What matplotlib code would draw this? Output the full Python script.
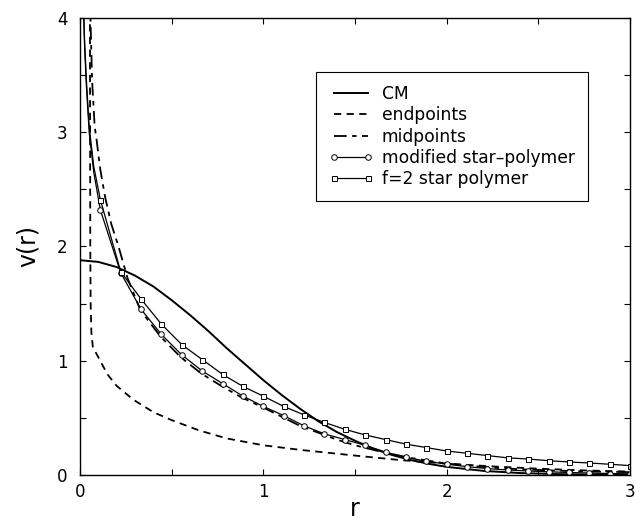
import matplotlib
matplotlib.use("Agg")
import matplotlib.pyplot as plt
from matplotlib.ticker import MultipleLocator

# CM curve
r_cm = [0.0, 0.1, 0.2, 0.3, 0.4, 0.5, 0.6, 0.7, 0.8, 0.9, 1.0, 1.1, 1.2, 1.3,
        1.4, 1.5, 1.6, 1.7, 1.8, 1.9, 2.0, 2.2, 2.4, 2.6, 2.8, 3.0]
v_cm = [1.88, 1.865, 1.82, 1.745, 1.65, 1.53, 1.40, 1.26, 1.11, 0.97, 0.83,
        0.70, 0.58, 0.47, 0.377, 0.30, 0.23, 0.176, 0.132, 0.098, 0.071,
        0.036, 0.017, 0.008, 0.003, 0.001]

# endpoints
r_end = [0.054, 0.055, 0.056, 0.058, 0.062, 0.07, 0.09, 0.11, 0.15, 0.2, 0.29,
         0.4, 0.5, 0.65, 0.8, 1.0, 1.2, 1.5, 1.75, 2.0, 2.25, 2.5, 2.75, 3.0]
v_end = [4.3, 3.0, 2.0, 1.5, 1.25, 1.12, 1.06, 1.0, 0.88, 0.78, 0.66, 0.55,
         0.48, 0.39, 0.32, 0.26, 0.22, 0.17, 0.13, 0.10, 0.075, 0.055, 0.04,
         0.03]

# midpoints
r_mid = [0.052, 0.057, 0.066, 0.08, 0.09, 0.11, 0.136, 0.17, 0.21, 0.26, 0.33,
         0.44, 0.55, 0.66, 0.77, 0.88, 1.0, 1.1, 1.2, 1.3, 1.4, 1.5, 1.65,
         1.8, 2.0, 2.2, 2.4, 2.6, 2.8, 3.0]
v_mid = [4.3, 4.0, 3.45, 3.05, 2.94, 2.68, 2.44, 2.2, 2.0, 1.72, 1.44, 1.21,
         1.03, 0.89, 0.78, 0.68, 0.59, 0.51, 0.43, 0.37, 0.31, 0.26, 0.2,
         0.15, 0.1, 0.07, 0.05, 0.038, 0.03, 0.025]

# star-polymer curves (markers from r = 0.111 on)
r_star = [0.015, 0.025, 0.035, 0.05, 0.075, 0.111, 0.222, 0.333, 0.444, 0.556,
          0.667, 0.778, 0.889, 1.0, 1.111, 1.222, 1.333, 1.444, 1.556, 1.667,
          1.778, 1.889, 2.0, 2.111, 2.222, 2.333, 2.444, 2.556, 2.667, 2.778,
          2.889, 3.0]
v_mod = [4.3, 3.75, 3.4, 3.0, 2.65, 2.32, 1.77, 1.45, 1.23, 1.05, 0.91, 0.80,
         0.69, 0.60, 0.52, 0.43, 0.36, 0.31, 0.26, 0.20, 0.155, 0.12, 0.095,
         0.073, 0.056, 0.044, 0.035, 0.028, 0.022, 0.017, 0.013, 0.01]
v_f2 = [4.3, 3.8, 3.45, 3.05, 2.7, 2.41, 1.78, 1.54, 1.32, 1.14, 1.01, 0.88,
        0.775, 0.69, 0.60, 0.526, 0.46, 0.40, 0.35, 0.31, 0.27, 0.24, 0.21,
        0.19, 0.17, 0.15, 0.14, 0.125, 0.114, 0.105, 0.094, 0.082]
first_marker = 5

fig = plt.figure(figsize=(6.36, 5.23), dpi=100)
ax = fig.add_axes([0.1258, 0.0918, 0.8648, 0.8738])

ax.plot(r_cm, v_cm, color="black", lw=1.4, label="CM")
ax.plot(r_end, v_end, color="black", lw=1.3, dashes=(4, 3), label="endpoints")
ax.plot(r_mid, v_mid, color="black", lw=1.3, dashes=(7, 3, 2.5, 3),
        label="midpoints")
marks = list(range(first_marker, len(r_star)))
ax.plot(r_star, v_mod, color="black", lw=0.9, marker="o", ms=4, mfc="white",
        mew=0.7, markevery=marks, label="modified star\u2013polymer")
ax.plot(r_star, v_f2, color="black", lw=0.9, marker="s", ms=3.6, mfc="white",
        mew=0.7, markevery=marks, label="f=2 star polymer")

ax.set_xlim(0, 3)
ax.set_ylim(0, 4)
ax.xaxis.set_major_locator(MultipleLocator(1))
ax.xaxis.set_minor_locator(MultipleLocator(0.5))
ax.yaxis.set_major_locator(MultipleLocator(1))
ax.yaxis.set_minor_locator(MultipleLocator(0.5))
ax.tick_params(which="both", direction="in", top=True, right=True,
               length=4, width=0.8, labelsize=12)
ax.tick_params(axis="x", which="major", pad=6)
ax.tick_params(axis="y", which="major", pad=9)
for sp in ax.spines.values():
    sp.set_linewidth(1.0)

ax.set_xlabel("r", fontsize=17, labelpad=-3)
ax.set_ylabel("v(r)", fontsize=17, labelpad=12)

leg = ax.legend(loc="upper left", bbox_to_anchor=(0.429, 0.882),
                fontsize=12.3, handlelength=2.6, labelspacing=0.2,
                handletextpad=0.5, borderpad=0.75, numpoints=2,
                fancybox=False, framealpha=1, edgecolor="black",
                borderaxespad=0)
leg.get_frame().set_linewidth(0.8)

fig.savefig("out.png", dpi=100)
